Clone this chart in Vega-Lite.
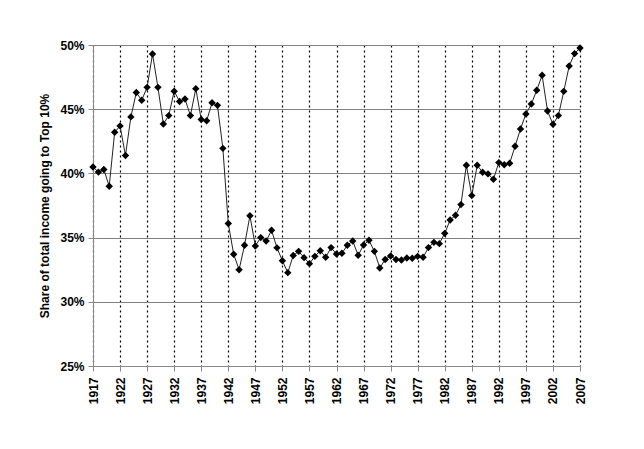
{
  "$schema": "https://vega.github.io/schema/vega-lite/v6.json",
  "autosize": {"type": "none"},
  "padding": {"left": 93, "top": 45, "right": 64, "bottom": 83},
  "width": 487,
  "height": 321,
  "background": "white",
  "config": {
    "view": {"stroke": null},
    "font": "Liberation Sans"
  },
  "data": {
    "values": [
      {"year": 1917, "share": 0.405},
      {"year": 1918, "share": 0.401},
      {"year": 1919, "share": 0.403},
      {"year": 1920, "share": 0.390},
      {"year": 1921, "share": 0.432},
      {"year": 1922, "share": 0.437},
      {"year": 1923, "share": 0.414},
      {"year": 1924, "share": 0.444},
      {"year": 1925, "share": 0.463},
      {"year": 1926, "share": 0.457},
      {"year": 1927, "share": 0.467},
      {"year": 1928, "share": 0.493},
      {"year": 1929, "share": 0.467},
      {"year": 1930, "share": 0.4385},
      {"year": 1931, "share": 0.445},
      {"year": 1932, "share": 0.464},
      {"year": 1933, "share": 0.456},
      {"year": 1934, "share": 0.458},
      {"year": 1935, "share": 0.445},
      {"year": 1936, "share": 0.466},
      {"year": 1937, "share": 0.442},
      {"year": 1938, "share": 0.441},
      {"year": 1939, "share": 0.455},
      {"year": 1940, "share": 0.453},
      {"year": 1941, "share": 0.4195},
      {"year": 1942, "share": 0.361},
      {"year": 1943, "share": 0.337},
      {"year": 1944, "share": 0.325},
      {"year": 1945, "share": 0.344},
      {"year": 1946, "share": 0.367},
      {"year": 1947, "share": 0.3435},
      {"year": 1948, "share": 0.350},
      {"year": 1949, "share": 0.3474},
      {"year": 1950, "share": 0.3557},
      {"year": 1951, "share": 0.342},
      {"year": 1952, "share": 0.332},
      {"year": 1953, "share": 0.3227},
      {"year": 1954, "share": 0.336},
      {"year": 1955, "share": 0.3393},
      {"year": 1956, "share": 0.3344},
      {"year": 1957, "share": 0.3297},
      {"year": 1958, "share": 0.3354},
      {"year": 1959, "share": 0.3398},
      {"year": 1960, "share": 0.3347},
      {"year": 1961, "share": 0.3422},
      {"year": 1962, "share": 0.3372},
      {"year": 1963, "share": 0.3378},
      {"year": 1964, "share": 0.344},
      {"year": 1965, "share": 0.3474},
      {"year": 1966, "share": 0.3362},
      {"year": 1967, "share": 0.3442},
      {"year": 1968, "share": 0.3479},
      {"year": 1969, "share": 0.3393},
      {"year": 1970, "share": 0.3263},
      {"year": 1971, "share": 0.333},
      {"year": 1972, "share": 0.3357},
      {"year": 1973, "share": 0.333},
      {"year": 1974, "share": 0.3326},
      {"year": 1975, "share": 0.3341},
      {"year": 1976, "share": 0.3339},
      {"year": 1977, "share": 0.3354},
      {"year": 1978, "share": 0.3347},
      {"year": 1979, "share": 0.3422},
      {"year": 1980, "share": 0.3463},
      {"year": 1981, "share": 0.3453},
      {"year": 1982, "share": 0.3533},
      {"year": 1983, "share": 0.3637},
      {"year": 1984, "share": 0.3674},
      {"year": 1985, "share": 0.3757},
      {"year": 1986, "share": 0.4063},
      {"year": 1987, "share": 0.3827},
      {"year": 1988, "share": 0.4063},
      {"year": 1989, "share": 0.4009},
      {"year": 1990, "share": 0.3996},
      {"year": 1991, "share": 0.3954},
      {"year": 1992, "share": 0.4084},
      {"year": 1993, "share": 0.4068},
      {"year": 1994, "share": 0.4079},
      {"year": 1995, "share": 0.4211},
      {"year": 1996, "share": 0.4346},
      {"year": 1997, "share": 0.4463},
      {"year": 1998, "share": 0.454},
      {"year": 1999, "share": 0.4647},
      {"year": 2000, "share": 0.4764},
      {"year": 2001, "share": 0.4486},
      {"year": 2002, "share": 0.4382},
      {"year": 2003, "share": 0.445},
      {"year": 2004, "share": 0.4639},
      {"year": 2005, "share": 0.4836},
      {"year": 2006, "share": 0.4933},
      {"year": 2007, "share": 0.4977}
    ]
  },
  "encoding": {
    "x": {
      "field": "year",
      "type": "quantitative",
      "scale": {"domain": [1917, 2007], "nice": false, "zero": false},
      "axis": {
        "title": null,
        "values": [1917, 1922, 1927, 1932, 1937, 1942, 1947, 1952, 1957, 1962, 1967, 1972, 1977, 1982, 1987, 1992, 1997, 2002, 2007],
        "format": "d",
        "labelAngle": -90,
        "labelFont": "Liberation Sans",
        "labelFontSize": 12,
        "labelFontWeight": "bold",
        "labelColor": "black",
        "labelPadding": 6,
        "domainColor": "#888888",
        "tickColor": "#888888",
        "tickSize": 5,
        "grid": true,
        "gridColor": "black",
        "gridDash": [2, 3],
        "gridWidth": 1.2,
        "gridOpacity": 1
      }
    },
    "y": {
      "field": "share",
      "type": "quantitative",
      "scale": {"domain": [0.25, 0.5], "nice": false, "zero": false},
      "axis": {
        "title": "Share of total income going to Top 10%",
        "titleFont": "Liberation Sans",
        "titleFontSize": 12,
        "titleFontWeight": "bold",
        "titleColor": "black",
        "titlePadding": 8,
        "values": [0.25, 0.3, 0.35, 0.4, 0.45, 0.5],
        "format": ".0%",
        "labelFont": "Liberation Sans",
        "labelFontSize": 12,
        "labelFontWeight": "bold",
        "labelColor": "black",
        "labelPadding": 4,
        "domainColor": "#888888",
        "tickColor": "#888888",
        "tickSize": 5,
        "grid": true,
        "gridColor": "#808080",
        "gridWidth": 1.2,
        "gridOpacity": 1
      }
    }
  },
  "layer": [
    {
      "mark": {"type": "line", "color": "#222222", "strokeWidth": 1}
    },
    {
      "mark": {"type": "point", "shape": "diamond", "filled": true, "color": "black", "opacity": 1, "size": 55}
    }
  ]
}
